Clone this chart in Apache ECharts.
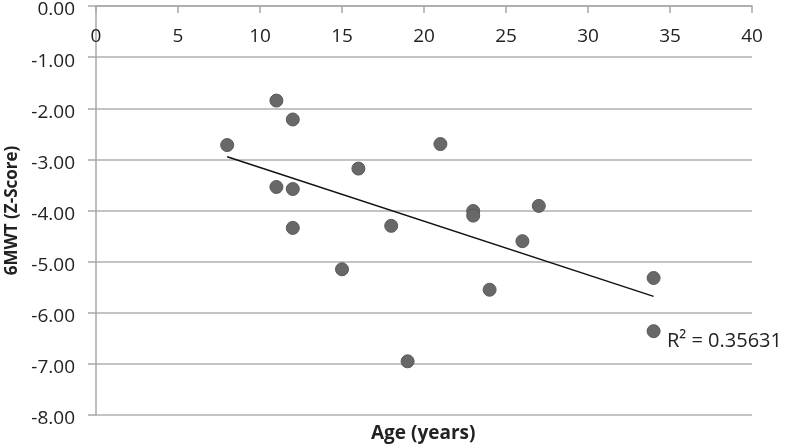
<!DOCTYPE html>
<html>
<head>
<meta charset="utf-8">
<script src="https://cdn.jsdelivr.net/npm/echarts@6/dist/echarts.min.js"></script>
<style>html,body{margin:0;padding:0;background:#fff}#c{width:787px;height:448px}</style>
</head>
<body>
<div id="c"></div>
<script>
// Age (years) and 6MWT z-scores
var ages   = [8, 11, 12, 21, 16, 11, 12, 23, 23, 12, 18, 15, 24, 27, 26, 34, 34, 19];
var scores = [-2.72, -1.85, -2.22, -2.70, -3.18, -3.54, -3.58, -4.01, -4.10, -4.34, -4.30, -5.15, -5.55, -3.91, -4.60, -5.32, -6.36, -6.95];
// linear trendline endpoints (as drawn)
var trendX = [8, 34];
var trendY = [-2.95, -5.68];
var xTicks = [0, 5, 10, 15, 20, 25, 30, 35, 40];
var yTicks = [0, -1, -2, -3, -4, -5, -6, -7, -8];
var r2Text = 'R\u00B2 = 0.35631';

var FONT = 'Open Sans';
var points = ages.map(function (a, i) { return [a, scores[i]]; });
var trend = trendX.map(function (x, i) { return [x, trendY[i]]; });

var chart = echarts.init(document.getElementById('c'));
chart.setOption({
  animation: false,
  backgroundColor: '#fff',
  grid: { left: 96, right: 35, top: 6, bottom: 33, containLabel: false, outerBoundsMode: 'none' },
  xAxis: {
    type: 'value', position: 'top', min: 0, max: 40, interval: 5,
    axisLine: { show: true, onZero: false, lineStyle: { color: '#a8a8a8', width: 1.5 } },
    axisTick: { show: true, inside: true, length: 7, lineStyle: { color: '#a8a8a8', width: 1.5 } },
    axisLabel: { inside: true, margin: 21, color: '#222', fontFamily: FONT, fontSize: 19,
      formatter: function (v) { return xTicks.indexOf(v) >= 0 ? String(v) : ''; } },
    splitLine: { show: false }
  },
  yAxis: {
    type: 'value', min: -8, max: 0, interval: 1,
    name: '6MWT (Z-Score)', nameLocation: 'middle', nameGap: 74,
    nameTextStyle: { fontFamily: FONT, fontSize: 17, fontWeight: 'bold', color: '#222' },
    axisLine: { show: true, onZero: false, lineStyle: { color: '#a8a8a8', width: 1.5 } },
    axisTick: { show: true, inside: false, length: 8, lineStyle: { color: '#a8a8a8', width: 1.5 } },
    axisLabel: { margin: 21, color: '#222', fontFamily: FONT, fontSize: 19, verticalAlign: 'top', lineHeight: 8,
      formatter: function (v) { return yTicks.indexOf(v) >= 0 ? v.toFixed(2) : ''; } },
    splitLine: { show: true, lineStyle: { color: '#b0b0b0', width: 1.5 } }
  },
  series: [
    {
      type: 'line', data: trend, symbol: 'none', silent: true, z: 3,
      lineStyle: { color: '#111', width: 1.5 }
    },
    {
      type: 'scatter', data: points, symbol: 'circle', symbolSize: 13, z: 4,
      itemStyle: { color: '#686868', borderColor: '#5a5a5a', borderWidth: 1, opacity: 1 }
    }
  ],
  graphic: [
    { type: 'text', left: 371, top: 424, style: { text: 'Age (years)', fontFamily: FONT, fontSize: 19, fontWeight: 'bold', fill: '#222' } },
    { type: 'text', left: 667, top: 331, style: { text: r2Text, fontFamily: FONT, fontSize: 20, fill: '#222' } }
  ]
});
</script>
</body>
</html>
